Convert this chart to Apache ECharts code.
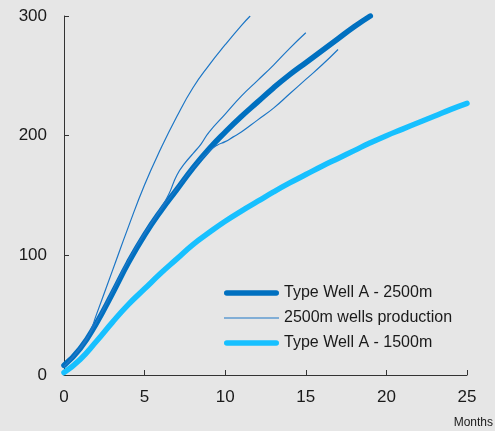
<!DOCTYPE html>
<html>
<head>
<meta charset="utf-8">
<script src="https://cdn.jsdelivr.net/npm/echarts@6/dist/echarts.min.js"></script>
<style>
html,body{margin:0;padding:0;background:#e6e6e6;}
#chart{width:495px;height:431px;}
</style>
</head>
<body>
<div id="chart"></div>
<script>
// Axis ticks
const xTicks = [0, 5, 10, 15, 20, 25];
const yTicks = [0, 100, 200, 300];

// Type Well A - 2500m
const tw2500Months = [0, 1, 2, 3, 4, 5, 6, 7, 8, 9, 10, 11, 12, 13, 14, 15, 16, 17, 18, 19];
const tw2500Values = [8, 22, 43, 68, 94, 117, 137, 155, 173, 189, 203, 216, 228, 240, 251, 261, 271, 281, 291, 300];

// 2500m wells production (three wells)
const wellAMonths = [0, 1, 1.5, 2, 3, 4, 5, 6, 7, 8, 9, 10, 11, 11.55];
const wellAValues = [7, 22, 32, 50, 87, 124, 159, 189, 216, 240, 259, 276, 292, 300];

const wellBMonths = [0, 1, 2, 3, 4, 5, 6, 6.5, 7, 7.5, 8, 8.5, 9, 10, 11, 12, 13, 14, 15];
const wellBValues = [7, 23, 44, 70, 96, 119, 139, 151, 167, 177, 185, 193, 203, 218, 233, 246, 259, 273, 286];

const wellCMonths = [0, 1, 2, 3, 4, 5, 6, 7, 8, 9, 9.5, 10, 10.5, 11, 12, 13, 14, 15, 16, 17];
const wellCValues = [7, 22, 44, 70, 96, 118, 138, 156, 173, 187, 192, 195, 199, 203, 213, 223, 235, 247, 259, 272];

// Type Well A - 1500m
const tw1500Months = [0, 1, 2, 3, 4, 5, 6, 7, 8, 9, 10, 11, 12, 13, 14, 15, 16, 17, 18, 19, 20, 21, 22, 23, 24, 25];
const tw1500Values = [2, 13, 28, 44, 59, 72, 85, 97, 109, 119, 128.5, 137, 145, 153, 160.5, 167.5, 174.5, 181, 187.5, 194, 200, 205.5, 211, 216.5, 222, 227];

const zip = (xs, ys) => xs.map((x, i) => [x, ys[i]]);

const DARK = '#0070c0';
const THIN = '#1c76c6';
const LIGHT = '#17c0ff';
const FONT = 'Liberation Sans, Arial, sans-serif';

const THICK_ICON = 'path://M2.75,0 H52.25 A2.75,2.75 0 0 1 52.25,5.5 H2.75 A2.75,2.75 0 0 1 2.75,0 Z';
const THIN_ICON = 'path://M0,0 H55 V1.2 H0 Z';

const chart = echarts.init(document.getElementById('chart'), null, {renderer: 'canvas'});
const thinSeries = (data) => ({
  name: '2500m wells production', type: 'line', data: data, smooth: 0.5,
  symbol: 'none', lineStyle: {color: THIN, width: 1.2}, itemStyle: {color: THIN}, z: 3
});
chart.setOption({
  backgroundColor: '#e6e6e6',
  animation: false,
  grid: {left: 64, top: 16, right: 28, bottom: 56, containLabel: false},
  legend: {
    orient: 'vertical', left: 224, top: 285, padding: 0,
    itemWidth: 55, itemHeight: 16, itemGap: 9, symbolKeepAspect: true,
    textStyle: {fontFamily: FONT, fontSize: 16, color: '#1a1a1a'},
    data: [
      {name: 'Type Well A - 2500m', icon: THICK_ICON},
      {name: '2500m wells production', icon: THIN_ICON},
      {name: 'Type Well A - 1500m', icon: THICK_ICON}
    ]
  },
  xAxis: {
    type: 'value', min: xTicks[0], max: xTicks[xTicks.length - 1], interval: 5,
    axisLine: {lineStyle: {color: '#333', width: 1}},
    axisTick: {inside: true, length: 5, lineStyle: {color: '#333'}},
    axisLabel: {fontFamily: FONT, fontSize: 17, color: '#1a1a1a', margin: 14},
    splitLine: {show: false}
  },
  yAxis: {
    type: 'value', min: yTicks[0], max: yTicks[yTicks.length - 1], interval: 100,
    axisLine: {show: true, lineStyle: {color: '#333', width: 1}},
    axisTick: {show: true, inside: true, length: 5, lineStyle: {color: '#333'}},
    axisLabel: {fontFamily: FONT, fontSize: 17, color: '#1a1a1a', margin: 17},
    splitLine: {show: false}
  },
  graphic: [{
    type: 'text', right: 2, top: 417,
    style: {text: 'Months', fontFamily: FONT, fontSize: 12, fill: '#1a1a1a'}
  }],
  series: [
    {
      name: 'Type Well A - 2500m', type: 'line', data: zip(tw2500Months, tw2500Values), smooth: 0.5,
      symbol: 'none', lineStyle: {color: DARK, width: 5.5, cap: 'round'}, itemStyle: {color: DARK}, z: 2
    },
    thinSeries(zip(wellAMonths, wellAValues)),
    thinSeries(zip(wellBMonths, wellBValues)),
    thinSeries(zip(wellCMonths, wellCValues)),
    {
      name: 'Type Well A - 1500m', type: 'line', data: zip(tw1500Months, tw1500Values), smooth: 0.5,
      symbol: 'none', lineStyle: {color: LIGHT, width: 5.5, cap: 'round'}, itemStyle: {color: LIGHT}, z: 2
    }
  ]
});
</script>
</body>
</html>
